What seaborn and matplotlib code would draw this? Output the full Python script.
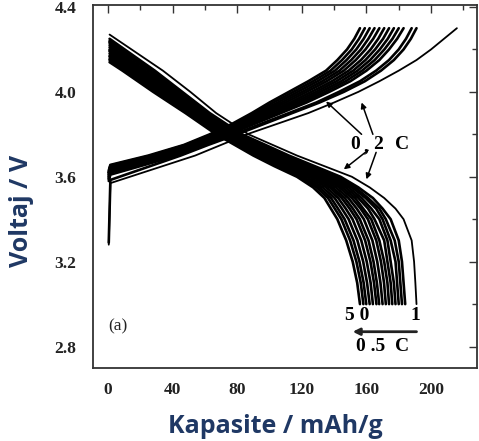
import matplotlib
matplotlib.use("Agg")
import matplotlib.pyplot as plt
import seaborn as sns
import pandas as pd
from matplotlib.ticker import MultipleLocator

# ---------------- data ----------------
# Discharge curves (cycle 1 ... cycle 50), capacity (mAh/g) at each voltage level
DIS_V_GRID = [4.1, 4.0, 3.9, 3.8, 3.7, 3.65, 3.6, 3.55, 3.5, 3.45, 3.4, 3.3, 3.2, 3.1, 3.0]
DIS_START_V = [4.27, 4.25, 4.24, 4.235, 4.23, 4.22, 4.21, 4.20, 4.195, 4.19,
               4.18, 4.17, 4.165, 4.155, 4.15, 4.14]
DIS_CAPS = [
    [34, 51, 67, 87, 117, 134, 151, 162, 171, 178, 183, 188, 189.5, 190.3, 191],
    [29, 46, 63, 83, 112, 128, 144, 155, 164, 170, 175, 180, 182, 183, 184],
    [28, 45, 62, 82, 110, 126, 142, 153, 161, 168, 172, 177.5, 180, 181, 182],
    [26, 44, 61, 81, 109, 124, 140, 151, 159.5, 166, 170, 175, 178, 179, 180],
    [25, 42.5, 60, 80, 107, 122.5, 138, 149, 157, 163, 168, 173, 175, 177, 178],
    [23, 41, 59, 78, 105, 121, 136, 147, 155, 161, 165, 171, 173, 175, 176],
    [22, 40, 58, 77, 104, 119, 134, 145, 153, 158, 163, 168, 171, 173, 174],
    [20.5, 38.6, 56.7, 76.2, 102.4, 117.3, 132.6, 143.1, 151, 156.4, 160.9, 166.1, 169, 170.9, 172],
    [19, 37.2, 55.6, 75, 100.8, 115.4, 130.6, 141, 148.8, 154, 158.4, 163.7, 166.7, 168.7, 170],
    [17.5, 35.8, 54.5, 73.8, 99.2, 113.5, 128.6, 138.9, 146.6, 151.6, 155.9, 161.3, 164.4, 166.5, 167.9],
    [16.3, 34.7, 53.5, 72.8, 97.8, 112, 126.9, 137.2, 144.7, 149.6, 153.9, 159.2, 162.5, 164.7, 166.2],
    [14.8, 33.3, 52.4, 71.6, 96.2, 110.1, 124.8, 135.1, 142.5, 147.2, 151.4, 156.8, 160.2, 162.6, 164],
    [13.3, 31.9, 51.2, 70.4, 94.6, 108.3, 122.8, 132.9, 140.3, 144.8, 149, 154.4, 158, 160.4, 162],
    [11.8, 30.5, 50.1, 69.2, 93, 106.4, 120.7, 130.9, 138.1, 142.4, 146.5, 152, 155.7, 158.3, 159.9],
    [10.5, 29.4, 49.1, 68.2, 91.6, 104.9, 119, 129.1, 136.2, 140.4, 144.5, 149.9, 153.8, 156.5, 158.1],
    [9, 28, 48, 67, 90, 103, 117, 127, 134, 138, 142, 147.5, 151.5, 154.3, 156],
]

# Charge curves (cycle 1 ... cycle 50)
CH_V_GRID = [3.7, 3.75, 3.8, 3.85, 3.9, 3.95, 4.0, 4.05, 4.1, 4.15, 4.2, 4.25, 4.3]
CH_V0 = [3.28, 3.29, 3.58, 3.59, 3.59, 3.60, 3.60, 3.61, 3.61, 3.62, 3.62, 3.62, 3.63]
CH_V1 = [3.57, 3.585, 3.61, 3.62, 3.625, 3.63, 3.635, 3.64, 3.643, 3.646, 3.65, 3.653, 3.656]
CH_CAPS = [
    [54, 70, 86, 105, 124, 140, 155, 168, 180, 191, 200, 208, 216],
    [45, 62, 80, 97, 114, 131, 146, 159, 169, 177, 183, 187.5, 191],
    [43, 60, 78, 95, 112, 129, 143, 156, 166, 174, 180, 184.5, 188],
    [40, 57, 75, 91, 107, 123, 137, 150, 160, 168, 174, 179, 183],
    [38.3, 55.9, 73.7, 89.5, 105, 120.5, 134.3, 147.1, 157.3, 165.1, 171.1, 176.1, 180],
    [36.7, 54.8, 72.4, 87.9, 103, 117.9, 131.5, 144.3, 154.5, 162.3, 168.3, 173.2, 177],
    [35.1, 53.7, 71, 86.4, 101.1, 115.4, 128.8, 141.4, 151.8, 159.4, 165.4, 170.3, 174],
    [33.4, 52.6, 69.7, 84.8, 99.1, 112.9, 126, 138.6, 149, 156.6, 162.6, 167.3, 171],
    [31.6, 51.4, 68.3, 83.2, 96.9, 110.1, 123, 135.4, 146, 153.4, 159.4, 164.2, 168],
    [30, 50.3, 67, 81.6, 94.9, 107.6, 120.3, 132.6, 143.3, 150.6, 156.6, 161.2, 165],
    [28.3, 49.2, 65.6, 80.1, 93, 105.1, 117.5, 129.7, 140.5, 147.7, 153.7, 158.3, 162],
    [26.7, 48.1, 64.3, 78.5, 91, 102.5, 114.8, 126.9, 137.8, 144.9, 150.9, 155.4, 159],
    [25, 47, 63, 77, 89, 100, 112, 124, 135, 142, 148, 152.5, 156],
]
CH_START_CAPS = [0.5, 1.5]
DIS_START_CAP = 1.0

X_TICKS = [0, 40, 80, 120, 160, 200]
Y_TICKS = [2.8, 3.2, 3.6, 4.0, 4.4]
X_LABEL = "Kapasite / mAh/g"
Y_LABEL = "Voltaj / V"

# ---------------- build long-form table ----------------
rows = []
for i, (v0, caps) in enumerate(zip(DIS_START_V, DIS_CAPS)):
    rows.append(("d%d" % i, i == 0, DIS_START_CAP, v0))
    for c, v in zip(caps, DIS_V_GRID):
        rows.append(("d%d" % i, i == 0, c, v))
for i, (va, vb, caps) in enumerate(zip(CH_V0, CH_V1, CH_CAPS)):
    rows.append(("c%d" % i, i == 0, CH_START_CAPS[0], va))
    rows.append(("c%d" % i, i == 0, CH_START_CAPS[1], vb))
    for c, v in zip(caps, CH_V_GRID):
        rows.append(("c%d" % i, i == 0, c, v))
df = pd.DataFrame(rows, columns=["curve", "first", "cap", "volt"])

# ---------------- plot ----------------
sns.set_theme(style="white")
plt.rcParams["font.family"] = ["Liberation Serif", "DejaVu Serif"]

fig = plt.figure(figsize=(4.79, 4.41), dpi=100)
fig.patch.set_facecolor("white")
ax = fig.add_axes([0.194, 0.166, 0.802, 0.823])

sns.lineplot(data=df[~df["first"]], x="cap", y="volt", units="curve", estimator=None,
             sort=False, color="black", lw=1.9, ax=ax, legend=False)
sns.lineplot(data=df[df["first"]], x="cap", y="volt", units="curve", estimator=None,
             sort=False, color="black", lw=1.3, ax=ax, legend=False)

ax.set_xlim(-9.3, 228.5)
ax.set_ylim(2.70, 4.41)
ax.set_xticks(X_TICKS)
ax.set_yticks(Y_TICKS)
ax.xaxis.set_minor_locator(MultipleLocator(20))
ax.yaxis.set_minor_locator(MultipleLocator(0.2))
ax.set_yticklabels(["%.1f" % t for t in Y_TICKS])
ax.tick_params(which="both", direction="in", top=True, right=True,
               width=1.0, color="#333333")
ax.tick_params(which="major", length=6, pad=10, labelsize=12.5, labelcolor="#222222")
ax.tick_params(axis="y", which="major", pad=12)
ax.tick_params(which="minor", length=3.5)
for lab in ax.get_xticklabels() + ax.get_yticklabels():
    lab.set_fontweight("bold")
for s in ax.spines.values():
    s.set_linewidth(1.3)
    s.set_color("#333333")
ax.set_xlabel("")
ax.set_ylabel("")

lab_font = dict(family=["Open Sans", "DejaVu Sans"], weight="bold", size=18, color="#1F3864")
fig.text(275 / 479, 1 - 433 / 441, X_LABEL, ha="center", va="baseline", **lab_font)
fig.text(22 / 479, 1 - 211 / 441, Y_LABEL, ha="center", va="center", rotation=90, **lab_font)

# annotations
tkw = dict(fontsize=14, fontweight="bold", ha="center", va="center", color="black")
ax.text(153, 3.75, "0", **tkw)
ax.text(160, 3.74, ",", **tkw)
ax.text(167, 3.75, "2", **tkw)
ax.text(182, 3.75, "C", **tkw)
ap = dict(arrowstyle="-|>", lw=1.1, color="black", mutation_scale=8, shrinkA=0, shrinkB=0)
ax.annotate("", xy=(135, 3.955), xytext=(157, 3.80), arrowprops=ap)
ax.annotate("", xy=(157, 3.95), xytext=(164, 3.80), arrowprops=ap)
ax.annotate("", xy=(146, 3.635), xytext=(161, 3.725), arrowprops=ap)
ax.annotate("", xy=(160, 3.588), xytext=(166, 3.715), arrowprops=ap)

ax.text(154, 2.945, "5 0", **tkw)
ax.text(190, 2.945, "1", **tkw)
ax.annotate("", xy=(151.5, 2.87), xytext=(191, 2.87),
            arrowprops=dict(arrowstyle="-|>", lw=2.0, color="#222222",
                            mutation_scale=10, shrinkA=0, shrinkB=0))
ax.text(170, 2.80, "0 .5  C", **tkw)
ax.text(6, 2.895, "(a)", fontsize=12.5, ha="center", va="center", color="#222222")

fig.savefig("out.png", dpi=100, facecolor="white")
